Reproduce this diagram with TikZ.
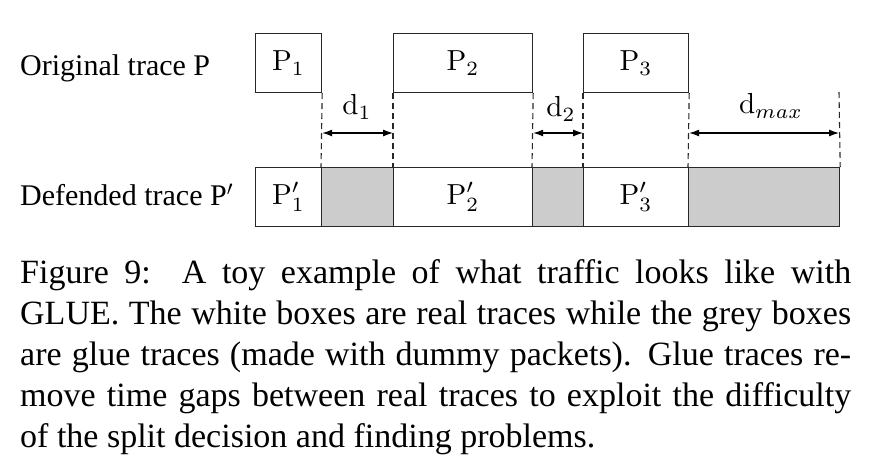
\documentclass[tikz,border=0pt]{standalone}
\usepackage[no-math]{fontspec}
\usepackage{graphicx}
\setmainfont{Liberation Serif}
\usetikzlibrary{arrows.meta}
\definecolor{glue}{RGB}{204,204,204}
\definecolor{edge}{RGB}{40,40,40}
\newcommand{\boxmath}[1]{\scalebox{2.9}{$#1$}}
\begin{document}
\begin{tikzpicture}[x=1pt,y=-1pt,
  tbox/.style={draw=edge, line width=1.2pt, minimum height=59pt, inner sep=0pt, anchor=north west},
  gbox/.style={tbox, fill=glue},
  gapline/.style={draw=edge, dash pattern=on 6pt off 4pt, line width=1.1pt},
  dimline/.style={{Latex[length=10pt,width=7pt]}-{Latex[length=10pt,width=7pt]}, line width=1.1pt, draw=black},
  lbl/.style={font=\fontsize{30}{36}\selectfont, anchor=base west, inner sep=0pt},
  dlbl/.style={inner sep=0pt}
]
\useasboundingbox (0,0) rectangle (877,469);
% labels
\node[lbl] (orig) at (20,75) {Original trace P};
\node[lbl] (def) at (20,205) {Defended trace P$'$};
% top row
\node[tbox, minimum width=66pt] (p1) at (255,33) {\boxmath{\mathrm{P}_1}};
\node[tbox, minimum width=139pt] (p2) at (393,33) {\boxmath{\mathrm{P}_2}};
\node[tbox, minimum width=105pt] (p3) at (583,33) {\boxmath{\mathrm{P}_3}};
% bottom row
\node[tbox, minimum width=66pt] (q1) at (255,167) {\boxmath{\mathrm{P}'_1}};
\node[gbox, minimum width=72pt] (g1) at (321,167) {};
\node[tbox, minimum width=139pt] (q2) at (393,167) {\boxmath{\mathrm{P}'_2}};
\node[gbox, minimum width=51pt] (g2) at (532,167) {};
\node[tbox, minimum width=105pt] (q3) at (583,167) {\boxmath{\mathrm{P}'_3}};
\node[gbox, minimum width=151pt] (g3) at (688,167) {};
% dashed lines
\coordinate (dtop) at (839,92);
\draw[gapline] (p1.south east) -- (g1.north west);
\draw[gapline] (p2.south west) -- (q2.north west);
\draw[gapline] (p2.south east) -- (g2.north west);
\draw[gapline] (p3.south west) -- (q3.north west);
\draw[gapline] (p3.south east) -- (g3.north west);
\draw[gapline] (dtop) -- (g3.north east);
% dimension arrows
\coordinate (dimy) at (0,133);
\draw[dimline] (p1.south east |- dimy) -- (p2.south west |- dimy);
\draw[dimline] (p2.south east |- dimy) -- (p3.south west |- dimy);
\draw[dimline] (p3.south east |- dimy) -- (dtop |- dimy);
\node[dlbl] (d1) at (357,107) {\boxmath{\mathrm{d}_1}};
\node[dlbl] (d2) at (561,109) {\boxmath{\mathrm{d}_2}};
\node[dlbl] (dm) at (771,106) {\boxmath{\mathrm{d}_{max}}};
% caption
\node[anchor=north west, inner sep=0pt, text width=831pt, align=justify,
      font=\fontsize{34}{41}\selectfont] (cap) at (20,259)
{Figure 9:\ \ A toy example of what traffic looks like with\linebreak
GLUE. The white boxes are real traces while the grey boxes\linebreak
are glue traces (made with dummy packets). Glue traces re-\linebreak
move time gaps between real traces to exploit the difficulty\linebreak
of the split decision and finding problems.};
\end{tikzpicture}
\end{document}
